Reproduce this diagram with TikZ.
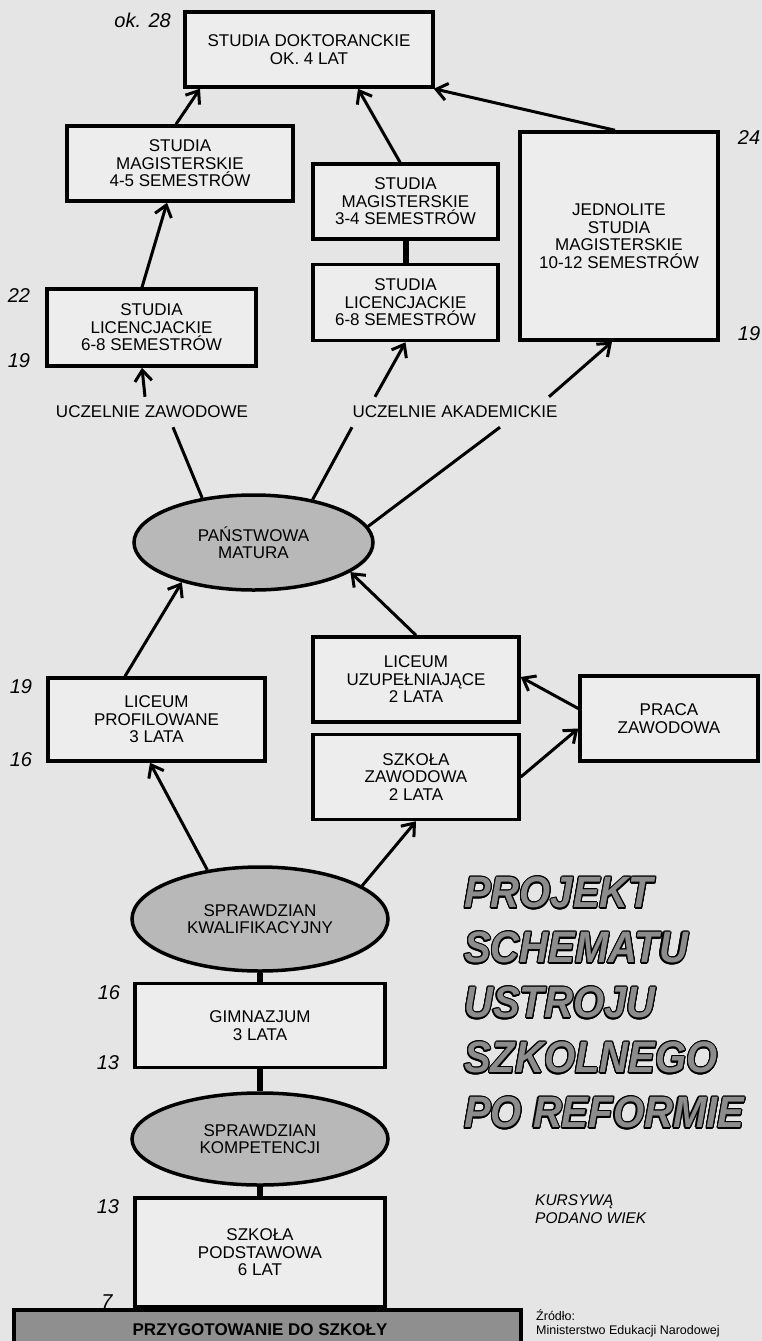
\documentclass[tikz,border=0pt]{standalone}
\usepackage{fontspec}
\setmainfont{Liberation Sans}
\usepackage{contour}
\usetikzlibrary{arrows.meta, positioning, shapes.geometric}
\contourlength{1.1pt}
\definecolor{bgcolor}{gray}{0.9}
\definecolor{boxcolor}{gray}{0.93}
\definecolor{examcolor}{gray}{0.72}
\definecolor{barcolor}{gray}{0.56}
\definecolor{titlecolor}{gray}{0.55}
\newcommand{\titleline}[1]{\scalebox{1}[1.1]{\contour{black}{#1}}}
\tikzset{
  stage/.style={draw, line width=3.5pt, fill=boxcolor, align=center,
                inner sep=0pt, font=\fontsize{17}{17.5}\selectfont},
  exam/.style={stage, ellipse, fill=examcolor},
  ageno/.style={font=\fontsize{20}{20}\selectfont\itshape, inner sep=0pt},
  uni/.style={font=\fontsize{17}{17}\selectfont, inner sep=9pt},
  arrow/.style={-{Straight Barb[length=11pt, width=17pt]}, line width=3pt},
  plain/.style={line width=3pt},
  joint/.style={line width=6pt},
}

\begin{document}
\begin{tikzpicture}[x=1pt, y=-1pt]
  \useasboundingbox[fill=bgcolor] (0,0) rectangle (762,1341);

  % Studia
  \node[stage, minimum width=248pt, minimum height=75pt] (dokt) at (309,49.5)
    {STUDIA DOKTORANCKIE\\OK. 4 LAT};
  \node[stage, minimum width=226pt, minimum height=75pt] (mag45) at (180,163.5)
    {STUDIA\\MAGISTERSKIE\\4-5 SEMESTRÓW};
  \node[stage, minimum width=185pt, minimum height=75pt] (mag34) at (405.5,201.5)
    {STUDIA\\MAGISTERSKIE\\3-4 SEMESTRÓW};
  \node[stage, minimum width=185pt, minimum height=76pt, below=22pt of mag34]
    (licm) {STUDIA\\LICENCJACKIE\\6-8 SEMESTRÓW};
  \node[stage, minimum width=198pt, minimum height=208pt] (jedn) at (619,236)
    {JEDNOLITE\\STUDIA\\MAGISTERSKIE\\10-12 SEMESTRÓW};
  \node[stage, minimum width=209pt, minimum height=77pt] (licl) at (151.5,327.5)
    {STUDIA\\LICENCJACKIE\\6-8 SEMESTRÓW};

  \node[uni] (zaw) at (152,412) {UCZELNIE ZAWODOWE};
  \node[uni] (akad) at (455,412) {UCZELNIE AKADEMICKIE};

  % Szkoly srednie
  \node[exam, minimum width=239pt, minimum height=95pt] (matura) at (253.5,542.5)
    {PAŃSTWOWA\\MATURA};
  \node[stage, minimum width=217pt, minimum height=83pt] (lprof) at (156.5,719.5)
    {LICEUM\\PROFILOWANE\\3 LATA};
  \node[stage, minimum width=206pt, minimum height=85pt] (luzu) at (416,679.5)
    {LICEUM\\UZUPEŁNIAJĄCE\\2 LATA};
  \node[stage, minimum width=206pt, minimum height=85pt, below=9pt of luzu]
    (szaw) {SZKOŁA\\ZAWODOWA\\2 LATA};
  \node[stage, minimum width=178pt, minimum height=85pt] (praca) at (669,718.5)
    {PRACA\\ZAWODOWA};

  % Gimnazjum i podstawowka
  \node[exam, minimum width=256pt, minimum height=104pt] (kwal) at (260,919)
    {SPRAWDZIAN\\KWALIFIKACYJNY};
  \node[stage, minimum width=250pt, minimum height=84pt, below=9pt of kwal]
    (gimn) {GIMNAZJUM\\3 LATA};
  \node[exam, minimum width=256pt, minimum height=92pt, below=22pt of gimn]
    (komp) {SPRAWDZIAN\\KOMPETENCJI};
  \node[stage, minimum width=250pt, minimum height=109pt, below=9.5pt of komp]
    (podst) {SZKOŁA\\PODSTAWOWA\\6 LAT};
  \node[stage, fill=barcolor, minimum width=507pt, minimum height=40pt,
        font=\fontsize{17}{17}\selectfont\bfseries] (prep) at (267.5,1330)
    {\hspace*{-15pt}PRZYGOTOWANIE DO SZKOŁY};

  % Wiek
  \node[ageno, anchor=east] (a28) at (171,20) {ok. 28};
  \node[ageno] (a22) at (19,296) {22};
  \node[ageno] (a19a) at (19,361) {19};
  \node[ageno] (a24) at (749,138) {24};
  \node[ageno] (a19b) at (749,334) {19};
  \node[ageno] (a19c) at (21,687) {19};
  \node[ageno] (a16a) at (21,760) {16};
  \node[ageno] (a16b) at (109,993) {16};
  \node[ageno] (a13a) at (108,1063) {13};
  \node[ageno] (a13b) at (108,1207) {13};
  \node[ageno] (a7) at (107,1302) {7};

  \node[anchor=north west, inner sep=0pt, align=left, text=titlecolor,
        font=\fontsize{40}{55}\selectfont\bfseries\itshape] (title) at (464,877)
    {\titleline{PROJEKT}\\\titleline{SCHEMATU}\\\titleline{USTROJU}\\
     \titleline{SZKOLNEGO}\\\titleline{PO REFORMIE}};
  \node[anchor=north west, inner sep=0pt, align=left,
        font=\fontsize{15.5}{18}\selectfont\itshape] (legend) at (535,1194.5)
    {KURSYWĄ\\PODANO WIEK};
  \node[anchor=north west, inner sep=0pt, align=left,
        font=\fontsize{12.5}{14.5}\selectfont] (source) at (536,1309)
    {Źródło:\\Ministerstwo Edukacji Narodowej};

  \draw[arrow] ([xshift=-4pt]mag45.north) -- ([xshift=-109pt]dokt.south);
  \draw[arrow] ([xshift=-5.5pt]mag34.north) -- ([xshift=49pt]dokt.south);
  \draw[arrow] ([xshift=-4pt]jedn.north) -- ([xshift=-1pt]dokt.south east);
  \draw[arrow] ([xshift=-9.5pt]licl.north) -- ([xshift=-13pt]mag45.south);
  \draw[joint] (mag34.south) -- (licm.north);
  \draw[arrow] ([xshift=-7pt]zaw.north) -- ([xshift=-9.5pt]licl.south);
  \draw[arrow] ([xshift=-80pt]akad.north) -- (licm.south);
  \draw[arrow] ([xshift=94pt]akad.north) -- ([xshift=-7pt]jedn.south);

  \draw[plain] ([xshift=21pt]zaw.south) -- (matura.139);
  \draw[plain] ([xshift=-103pt]akad.south) -- (matura.36);
  \draw[plain] ([xshift=45pt]akad.south) -- (matura.8);

  \draw[arrow] ([xshift=-31.5pt]lprof.north) -- (matura.209);
  \draw[arrow] (luzu.north) -- (matura.343);
  \draw[arrow] (kwal.137) -- ([xshift=-6.5pt]lprof.south);
  \draw[arrow] (kwal.18) -- (szaw.south);
  \draw[arrow] (szaw.east) -- ([yshift=-10pt]praca.west);
  \draw[arrow] ([yshift=10pt]praca.west) -- ([yshift=2.5pt]luzu.east);

  \draw[joint] (kwal.south) -- (gimn.north);
  \draw[joint] (gimn.south) -- (komp.north);
  \draw[joint] (komp.south) -- (podst.north);

\end{tikzpicture}
\end{document}
